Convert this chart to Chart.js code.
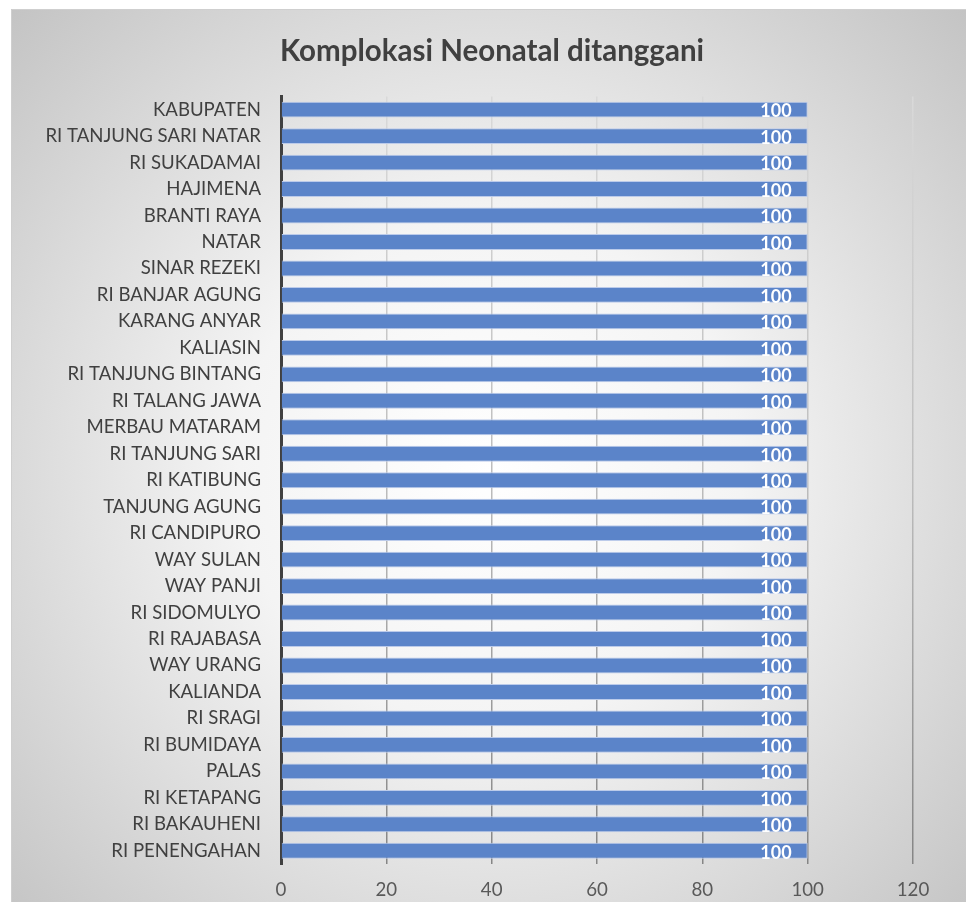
<!DOCTYPE html>
<html>
<head>
<meta charset="utf-8">
<script src="https://cdn.jsdelivr.net/npm/chart.js@4"></script>
<style>
html,body{margin:0;padding:0;background:#fff;}
#wrap{width:966px;height:902px;position:relative;}
</style>
</head>
<body>
<div id="wrap"><canvas id="c" width="966" height="902"></canvas></div>
<script>
const categories = [
  "KABUPATEN","RI TANJUNG SARI NATAR","RI SUKADAMAI","HAJIMENA","BRANTI RAYA","NATAR",
  "SINAR REZEKI","RI BANJAR AGUNG","KARANG ANYAR","KALIASIN","RI TANJUNG BINTANG",
  "RI TALANG JAWA","MERBAU MATARAM","RI TANJUNG SARI","RI KATIBUNG","TANJUNG AGUNG",
  "RI CANDIPURO","WAY SULAN","WAY PANJI","RI SIDOMULYO","RI RAJABASA","WAY URANG",
  "KALIANDA","RI SRAGI","RI BUMIDAYA","PALAS","RI KETAPANG","RI BAKAUHENI","RI PENENGAHAN"
];
const values = [100,100,100,100,100,100,100,100,100,100,100,100,100,100,100,100,100,100,100,100,100,100,100,100,100,100,100,100,100];
const xTicks = [0,20,40,60,80,100,120];
const titleText = "Komplokasi Neonatal ditanggani";

const FONT = "Lato, 'Open Sans', sans-serif";

const bgPlugin = {
  id: 'bg',
  afterLayout(chart) {
    if (chart.titleBlock) {
      chart.titleBlock.left = 18;
      chart.titleBlock.right = 966;
      chart.titleBlock.width = 948;
    }
  },
  beforeDraw(chart) {
    const ctx = chart.ctx;
    ctx.save();
    ctx.fillStyle = '#ffffff';
    ctx.fillRect(0, 0, chart.width, chart.height);
    const g = ctx.createRadialGradient(490, 470, 0, 490, 470, 720);
    g.addColorStop(0, '#ffffff');
    g.addColorStop(0.35, '#f4f4f4');
    g.addColorStop(1, '#bdbdbd');
    ctx.fillStyle = g;
    ctx.fillRect(11, 9, chart.width - 11, chart.height - 9);
    ctx.strokeStyle = '#cfcfcf';
    ctx.lineWidth = 1;
    ctx.beginPath();
    ctx.moveTo(11.5, chart.height);
    ctx.lineTo(11.5, 9.5);
    ctx.lineTo(chart.width, 9.5);
    ctx.stroke();
    ctx.restore();
  }
};

const labelPlugin = {
  id: 'barLabels',
  afterDatasetsDraw(chart) {
    const ctx = chart.ctx;
    const meta = chart.getDatasetMeta(0);
    ctx.save();
    ctx.font = "bold 18px " + FONT;
    ctx.fillStyle = '#ffffff';
    ctx.textAlign = 'right';
    ctx.textBaseline = 'middle';
    meta.data.forEach((bar, i) => {
      ctx.fillText(String(values[i]), bar.x - 16, bar.y + 2);
    });
    ctx.restore();
  }
};

new Chart(document.getElementById('c'), {
  type: 'bar',
  data: {
    labels: categories,
    datasets: [{
      data: values,
      backgroundColor: '#5b84c9',
      borderColor: '#bccbea',
      borderWidth: 1,
      barPercentage: 0.6,
      categoryPercentage: 1.0
    }]
  },
  options: {
    indexAxis: 'y',
    responsive: false,
    animation: false,
    devicePixelRatio: 1,
    layout: { padding: { left: 11, right: 53, top: 9, bottom: 0 } },
    plugins: {
      legend: { display: false },
      tooltip: { enabled: false },
      title: {
        display: true,
        text: titleText,
        color: '#404040',
        font: { family: FONT, size: 29.5, weight: 'bold', lineHeight: 1.2 },
        padding: { top: 25, bottom: 27 }
      }
    },
    scales: {
      x: {
        min: 0, max: 120,
        afterBuildTicks(scale) { scale.ticks = xTicks.map(v => ({ value: v })); },
        afterFit(scale) { scale.height = 38; },
        ticks: {
          color: '#595959',
          font: { family: FONT, size: 18.7 },
          padding: 15
        },
        grid: {
          drawTicks: false,
          lineWidth: 1.5,
          color(ctx) {
            const c = ctx.chart;
            const ca = c.chartArea;
            if (!ca) return '#aaaaaa';
            const g = c.ctx.createLinearGradient(0, ca.top, 0, ca.bottom);
            g.addColorStop(0, '#d9d9d9');
            g.addColorStop(0.5, '#bdbdbd');
            g.addColorStop(1, '#858585');
            return g;
          }
        },
        border: { display: false }
      },
      y: {
        afterFit(scale) { scale.width = 270; },
        ticks: {
          color: '#404040',
          font: { family: FONT, size: 18.6 },
          padding: 20,
          autoSkip: false
        },
        grid: { display: false, drawTicks: false },
        border: { display: true, color: '#404040', width: 3 }
      }
    }
  },
  plugins: [bgPlugin, labelPlugin]
});
</script>
</body>
</html>
